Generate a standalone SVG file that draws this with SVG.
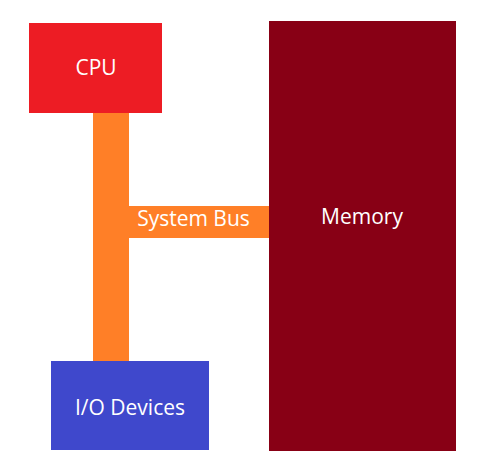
<svg xmlns="http://www.w3.org/2000/svg" width="488" height="476" viewBox="0 0 488 476">
<style>
text{font-family:"Open Sans","Liberation Sans",sans-serif;font-size:21px;fill:#fff;text-anchor:middle}
</style>
<rect width="488" height="476" fill="#fff"/>
<g id="connectors">
<rect x="93" y="112" width="36" height="250" fill="#FF7F27"/>
<rect x="129" y="206" width="141" height="32" fill="#FF7F27"/>
<text x="193.5" y="226">System Bus</text>
</g>
<g id="cpu">
<rect x="29" y="23" width="133" height="90" fill="#ED1C24"/>
<text x="96" y="75">CPU</text>
</g>
<g id="io">
<rect x="51" y="361" width="158" height="89" fill="#3F48CC"/>
<text x="130" y="415">I/O Devices</text>
</g>
<g id="memory">
<rect x="269" y="21" width="187" height="430" fill="#880015"/>
<text x="362" y="224">Memory</text>
</g>
</svg>
